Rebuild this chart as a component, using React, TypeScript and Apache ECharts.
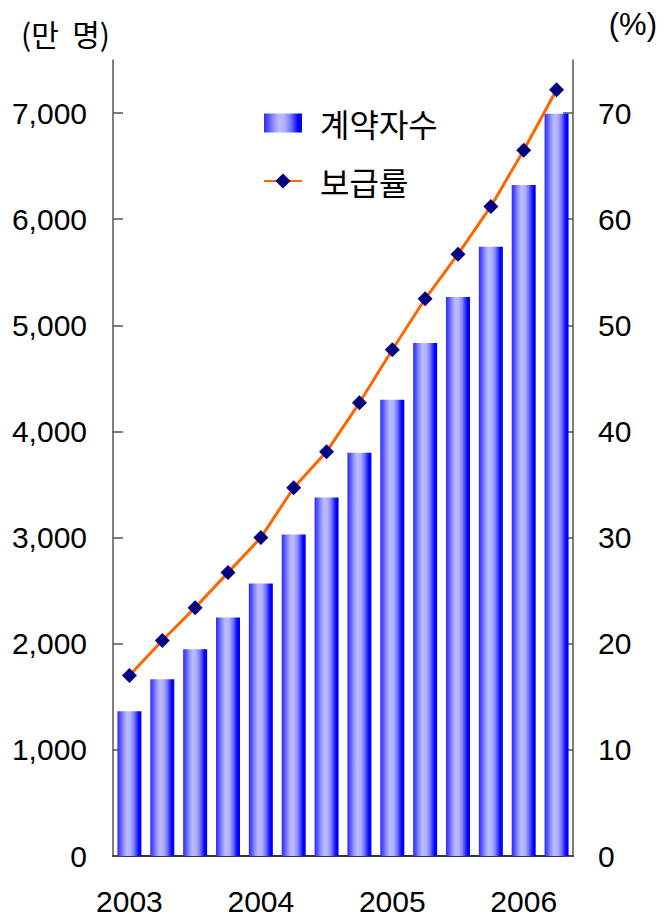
import { useEffect, useRef } from "react";
import * as echarts from "echarts";

// Quarterly figures, 2003 Q1 – 2006 Q2
const quarters = [
  "2003 Q1", "2003 Q2", "2003 Q3", "2003 Q4",
  "2004 Q1", "2004 Q2", "2004 Q3", "2004 Q4",
  "2005 Q1", "2005 Q2", "2005 Q3", "2005 Q4",
  "2006 Q1", "2006 Q2",
];
// 계약자수 (만 명)
const subscribers = [1364, 1665, 1947, 2248, 2568, 3029, 3377, 3800, 4299, 4833, 5268, 5741, 6322, 6993];
// 보급률 (%)
const penetration = [17.0, 20.3, 23.4, 26.7, 30.0, 34.7, 38.1, 42.7, 47.7, 52.5, 56.7, 61.2, 66.5, 72.2];

const leftTicks = [0, 1000, 2000, 3000, 4000, 5000, 6000, 7000];
const rightTicks = [0, 10, 20, 30, 40, 50, 60, 70];

const barName = "계약자수";
const lineName = "보급률";
const leftUnit = "(만  명)";
const rightUnit = "(%)";

const NUM_FONT = "'Liberation Sans', Arial, sans-serif";
const KR_FONT = "'Noto Sans CJK KR', 'Noto Sans', sans-serif";

export default function App() {
  const ref = useRef<HTMLDivElement>(null);

  useEffect(() => {
    if (!ref.current) return;
    const chart = echarts.init(ref.current, undefined, { renderer: "svg" });

    const barFill = new echarts.graphic.LinearGradient(0, 0, 1, 0, [
      { offset: 0, color: "#2a2aff" },
      { offset: 0.12, color: "#5656ff" },
      { offset: 0.26, color: "#9292ff" },
      { offset: 0.4, color: "#bcbcff" },
      { offset: 0.55, color: "#b0b0ff" },
      { offset: 0.7, color: "#7878ff" },
      { offset: 0.83, color: "#2828ff" },
      { offset: 0.9, color: "#0000ff" },
      { offset: 1, color: "#0000ff" },
    ]);

    chart.setOption({
      animation: false,
      backgroundColor: "#ffffff",
      grid: { left: 113, right: 95, top: 60, bottom: 63, containLabel: false },
      legend: {
        orient: "vertical",
        left: 258,
        top: 102,
        itemWidth: 38,
        itemHeight: 19,
        itemGap: 26,
        textStyle: {
          fontSize: 32,
          fontFamily: KR_FONT,
          color: "#000",
          padding: [0, 0, 0, 13],
        },
        data: [{ name: barName, icon: "rect" }, { name: lineName }],
      },
      graphic: [
        {
          type: "text",
          left: 21,
          top: 18,
          style: { text: leftUnit, fontSize: 30, fontFamily: KR_FONT, fill: "#000" },
        },
        {
          type: "text",
          right: 11,
          top: 9,
          style: { text: rightUnit, fontSize: 31, fontFamily: NUM_FONT, fill: "#000" },
        },
      ],
      xAxis: {
        type: "category",
        data: quarters,
        axisLine: { lineStyle: { color: "#333", width: 2 } },
        axisTick: { show: false },
        axisLabel: {
          interval: 3,
          margin: 30,
          fontSize: 30,
          fontFamily: NUM_FONT,
          color: "#000",
          formatter: (v: string) => v.slice(0, 4),
        },
      },
      yAxis: [
        {
          type: "value",
          min: 0,
          max: 7500,
          interval: 500,
          splitLine: { show: false },
          axisLine: { show: true, lineStyle: { color: "#555", width: 1.5 } },
          axisTick: {
            show: true,
            inside: true,
            length: 10,
            lineStyle: { color: "#555", width: 1.5 },
            customValues: leftTicks,
          },
          axisLabel: {
            margin: 26,
            fontSize: 30,
            fontFamily: NUM_FONT,
            color: "#000",
            customValues: leftTicks,
            formatter: (v: number) => v.toLocaleString("en-US"),
          },
        },
        {
          type: "value",
          min: 0,
          max: 75,
          interval: 5,
          position: "right",
          splitLine: { show: false },
          axisLine: { show: true, lineStyle: { color: "#555", width: 1.5 } },
          axisTick: {
            show: true,
            inside: true,
            length: 10,
            lineStyle: { color: "#555", width: 1.5 },
            customValues: rightTicks,
          },
          axisLabel: {
            margin: 25,
            fontSize: 30,
            fontFamily: NUM_FONT,
            color: "#000",
            customValues: rightTicks,
          },
        },
      ],
      series: [
        {
          name: barName,
          type: "bar",
          data: subscribers,
          barWidth: 24,
          itemStyle: { color: barFill },
        },
        {
          name: lineName,
          type: "line",
          yAxisIndex: 1,
          data: penetration,
          symbol: "diamond",
          symbolSize: 15,
          lineStyle: { color: "#ff6600", width: 3 },
          itemStyle: { color: "#000080" },
          z: 3,
        },
      ],
    });

    return () => chart.dispose();
  }, []);

  return (
    <div
      ref={ref}
      style={{ position: "absolute", left: 0, top: 0, width: 668, height: 919 }}
    />
  );
}
